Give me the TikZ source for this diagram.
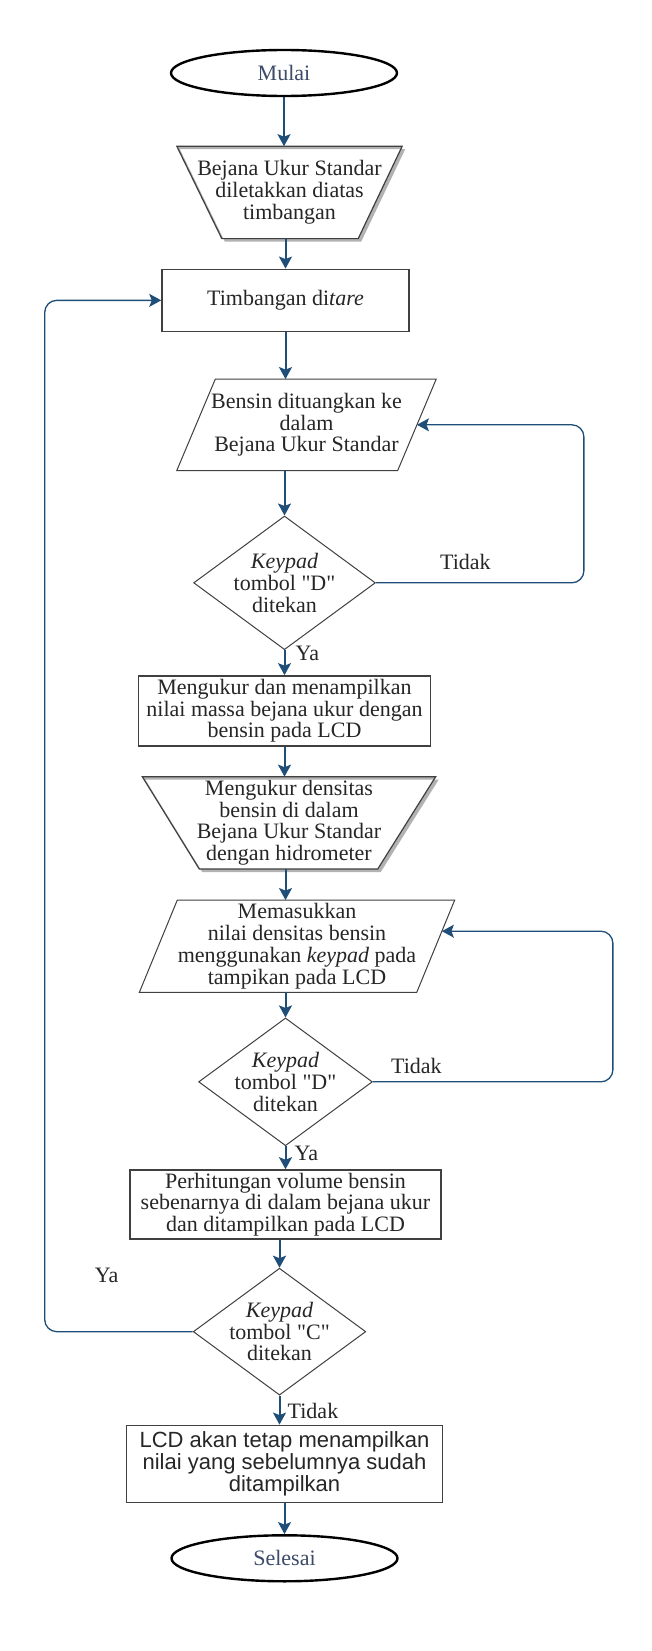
\documentclass[tikz,border=0pt]{standalone}
\usepackage{fontspec}
\setmainfont{Liberation Serif}[Ligatures=TeXOff]
\newfontfamily\arialfont{Liberation Sans}
\usepackage{tikz}
\usetikzlibrary{arrows.meta,positioning,shapes.geometric,calc}
\definecolor{flowblue}{RGB}{31,78,121}
\definecolor{termtext}{RGB}{59,75,105}
\definecolor{edgegray}{RGB}{64,64,64}
\newcommand{\flowfont}{\fontsize{22}{21.7}\selectfont}

\begin{document}
\begin{tikzpicture}[x=1pt,y=-1pt,>={Stealth[length=12pt,width=13pt,inset=2.5pt]},font=\flowfont,text=black!85]
\tikzstyle{term}=[ellipse,draw=black,line width=2.4pt,minimum width=226pt,minimum height=46pt,text=termtext,inner sep=0pt]
\tikzstyle{proc}=[rectangle,draw=edgegray,line width=1.5pt,align=center,inner sep=0pt]
\tikzstyle{slanted}=[rectangle,align=center,inner sep=0pt]
\tikzstyle{outline}=[draw=edgegray,line width=1.2pt,line join=miter]
\tikzstyle{shade}=[fill=black!30,even odd rule]
\tikzstyle{decision}=[diamond,draw=edgegray,line width=1pt,align=center,inner sep=0pt,aspect=1.36]
\tikzstyle{flow}=[->,draw=flowblue,line width=2pt]
\tikzstyle{loopline}=[->,draw=flowblue,line width=1.3pt,rounded corners=12pt]
\tikzstyle{lbl}=[inner sep=0pt,anchor=west]
\path[fill=white,use as bounding box] (0,0) rectangle (652,1651);
% main column
\node[term] (mulai) at (284,73) {Mulai};
\node[slanted, minimum width=225pt, minimum height=92pt, below=49pt of mulai, xshift=5.5pt] (letak) {Bejana Ukur Standar\\diletakkan diatas\\timbangan};
\node[proc, minimum width=247pt, minimum height=62pt, below=30pt of letak, xshift=-4pt] (tare) {Timbangan di\textit{tare}};
\node[slanted, minimum width=259pt, minimum height=91pt, below=47pt of tare, xshift=21pt] (tuang) {Bensin dituangkan ke\\dalam\\ Bejana Ukur Standar};
\node[decision, below=45pt of tuang, xshift=-22pt] (tombolA) {\textit{Keypad}\\tombol "D"\\ditekan};
\node[proc, minimum width=292pt, minimum height=70pt, below=25pt of tombolA] (massa) {Mengukur dan menampilkan\\nilai massa bejana ukur dengan\\bensin pada LCD};
\node[slanted, minimum width=293pt, minimum height=92pt, below=30pt of massa, xshift=4.5pt] (densitas) {Mengukur densitas\\bensin di dalam\\Bejana Ukur Standar\\dengan hidrometer};
\node[slanted, minimum width=315pt, minimum height=92pt, below=31pt of densitas, xshift=8pt] (masuk) {Memasukkan\\nilai densitas bensin\\menggunakan \textit{keypad} pada\\tampikan pada LCD};
\node[decision, inner xsep=-4pt, below=25pt of masuk, xshift=-11.5pt] (tombolB) {\textit{Keypad}\\tombol "D"\\ditekan};
\node[proc, minimum width=311pt, minimum height=69pt, below=23pt of tombolB] (volume) {Perhitungan volume bensin\\sebenarnya di dalam bejana ukur\\dan ditampilkan pada LCD};
\node[decision, inner xsep=-4pt, below=28pt of volume, xshift=-6pt] (tombolC) {\textit{Keypad}\\tombol "C"\\ditekan};
\node[proc, font=\arialfont\flowfont, minimum width=316pt, minimum height=77pt, below=29pt of tombolC, xshift=5pt] (tetap) {LCD akan tetap menampilkan\\nilai yang sebelumnya sudah\\ditampilkan};
\node[term, below=31pt of tetap] (selesai) {Selesai};
% manual operation outlines, with shadow
\fill[shade] ([shift={(3,3)}]letak.north west) -- ([shift={(3,3)}]letak.north east) -- ([shift={(-41,3)}]letak.south east) -- ([shift={(48,3)}]letak.south west) -- cycle
  (letak.north west) -- (letak.north east) -- ([xshift=-44pt]letak.south east) -- ([xshift=45pt]letak.south west) -- cycle;
\draw[outline] (letak.north west) -- (letak.north east) -- ([xshift=-44pt]letak.south east) -- ([xshift=45pt]letak.south west) -- cycle;
\fill[shade] ([shift={(3,3)}]densitas.north west) -- ([shift={(3,3)}]densitas.north east) -- ([shift={(-55,3)}]densitas.south east) -- ([shift={(60,3)}]densitas.south west) -- cycle
  (densitas.north west) -- (densitas.north east) -- ([xshift=-58pt]densitas.south east) -- ([xshift=57pt]densitas.south west) -- cycle;
\draw[outline] (densitas.north west) -- (densitas.north east) -- ([xshift=-58pt]densitas.south east) -- ([xshift=57pt]densitas.south west) -- cycle;
% input outlines
\draw[outline,line width=1pt] ([xshift=38.5pt]tuang.north west) -- (tuang.north east) -- ([xshift=-38.5pt]tuang.south east) -- (tuang.south west) -- cycle;
\draw[outline,line width=1pt] ([xshift=38pt]masuk.north west) -- (masuk.north east) -- ([xshift=-38pt]masuk.south east) -- (masuk.south west) -- cycle;
% labels
\node[lbl] (ya1) at ([xshift=11pt,yshift=-3pt]tombolA.south) {Ya};
\node[lbl] (tidak1) at ([xshift=64pt,yshift=21pt]tombolA.east) {Tidak};
\node[lbl] (ya2) at ([xshift=9pt,yshift=-7pt]tombolB.south) {Ya};
\node[lbl] (tidak2) at ([xshift=18pt,yshift=16pt]tombolB.east) {Tidak};
\node[lbl] (ya3) at ([xshift=-98pt,yshift=56pt]tombolC.west) {Ya};
\node[lbl] (tidak3) at ([xshift=8pt,yshift=-15pt]tombolC.south) {Tidak};
% connectors
\draw[flow] (mulai.south) -- (mulai.south |- letak.north);
\draw[flow] (tare.north |- letak.south) -- (tare.north);
\draw[flow] (tare.south) -- (tare.south |- tuang.north);
\draw[flow] (tombolA.north |- tuang.south) -- (tombolA.north);
\draw[flow] (tombolA.south) -- (massa.north);
\draw[flow] (massa.south) -- (massa.south |- densitas.north);
\draw[flow] (tombolB.north |- densitas.south) -- (tombolB.north |- masuk.north);
\draw[flow] (tombolB.north |- masuk.south) -- (tombolB.north);
\draw[flow] (tombolB.south) -- (volume.north);
\draw[flow] (tombolC.north |- volume.south) -- (tombolC.north);
\draw[flow] (tombolC.south) -- (tombolC.south |- tetap.north);
\draw[flow] (tetap.south) -- (selesai.north);
\coordinate (inA) at ($(tuang.north east)!0.5!([xshift=-38.5pt]tuang.south east)$);
\coordinate (inB) at ($(masuk.north east)!0.337!([xshift=-38pt]masuk.south east)$);
\draw[loopline] (tombolA.east) -- ++(208,0) |- (inA);
\draw[loopline] (tombolB.east) -- ++(240,0) |- (inB);
\draw[loopline] (tombolC.west) -- ++(-148,0) |- (tare.west);
\end{tikzpicture}
\end{document}
